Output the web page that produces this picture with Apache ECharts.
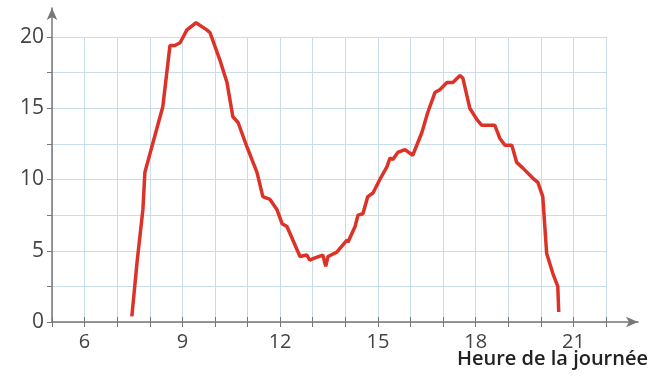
<!DOCTYPE html>
<html>
<head>
<meta charset="utf-8">
<script src="https://cdn.jsdelivr.net/npm/echarts@6/dist/echarts.min.js"></script>
<style>
    html, body { margin: 0; padding: 0; background: #fff; }
    #chart { width: 650px; height: 385px; }
</style>
</head>
<body>
<div id="chart"></div>
<script>
// heure de la journée / valeur
const hours = [7.45, 7.61, 7.79, 7.85, 8.1, 8.4, 8.62, 8.77, 8.93, 9.14, 9.42, 9.75, 9.85, 10.15, 10.37, 10.55, 10.71, 10.98, 11.29, 11.47, 11.69, 11.9, 12.06, 12.21, 12.61, 12.82, 12.91, 13.07, 13.31, 13.4, 13.47, 13.74, 14.05, 14.08, 14.3, 14.39, 14.54, 14.69, 14.85, 15.06, 15.28, 15.37, 15.46, 15.61, 15.83, 16.07, 16.35, 16.53, 16.75, 16.9, 17.12, 17.3, 17.52, 17.61, 17.82, 18.04, 18.19, 18.59, 18.74, 18.9, 19.11, 19.26, 19.45, 19.75, 19.91, 20.06, 20.18, 20.37, 20.52, 20.55];
const values = [0.4, 4.2, 7.9, 10.5, 12.6, 15.1, 19.4, 19.4, 19.6, 20.5, 21.0, 20.5, 20.3, 18.4, 16.8, 14.4, 14.0, 12.3, 10.5, 8.8, 8.6, 7.9, 6.9, 6.7, 4.6, 4.7, 4.35, 4.5, 4.7, 3.9, 4.6, 4.9, 5.75, 5.6, 6.7, 7.5, 7.6, 8.8, 9.05, 10.0, 10.9, 11.5, 11.4, 11.9, 12.1, 11.7, 13.3, 14.7, 16.1, 16.3, 16.8, 16.8, 17.3, 17.1, 15.0, 14.2, 13.8, 13.8, 12.9, 12.4, 12.4, 11.2, 10.8, 10.1, 9.8, 8.8, 4.8, 3.4, 2.5, 0.7];
const xLabels = [6, 9, 12, 15, 18, 21];
const yLabels = [0, 5, 10, 15, 20];

const gridColor = '#c9dcea';
const textColor = '#444';
const font = '"Open Sans", "Noto Sans", sans-serif';

let chart = echarts.init(document.getElementById('chart'));
const option = {
    animation: false,
    grid: [
        {left: 52, right: 44, top: 37, bottom: 63},
        {left: 52, right: 12, top: 8, bottom: 63}
    ],
    xAxis: [
        {
            type: 'value', gridIndex: 0, min: 5, max: 22, interval: 1,
            axisLine: {show: false},
            axisTick: {show: true, length: 5, lineStyle: {color: '#777'}},
            splitLine: {show: true, lineStyle: {color: gridColor, width: 1}},
            axisLabel: {
                fontSize: 20, color: textColor, fontFamily: font, margin: 10,
                formatter: v => xLabels.indexOf(v) >= 0 ? String(v) : ''
            }
        },
        {
            type: 'value', gridIndex: 0, min: 5, max: 22, interval: 1, position: 'bottom',
            axisLine: {show: false},
            axisTick: {show: true, inside: true, length: 5, lineStyle: {color: '#777'}},
            splitLine: {show: false},
            axisLabel: {show: false}
        },
        {
            type: 'value', gridIndex: 1, min: 0, max: 1,
            axisLine: {show: true, symbol: ['none', 'arrow'], symbolSize: [8, 12], lineStyle: {color: '#777', width: 1.5}},
            axisTick: {show: false}, splitLine: {show: false}, axisLabel: {show: false}
        }
    ],
    yAxis: [
        {
            type: 'value', gridIndex: 0, min: 0, max: 20, interval: 2.5,
            axisLine: {show: false},
            axisTick: {show: true, length: 5, lineStyle: {color: '#777'}},
            splitLine: {show: true, lineStyle: {color: gridColor, width: 1}},
            axisLabel: {
                fontSize: 21, color: textColor, fontFamily: font, margin: 8,
                formatter: v => yLabels.indexOf(v) >= 0 ? String(v) : ''
            }
        },
        {
            type: 'value', gridIndex: 1, min: 0, max: 1,
            axisLine: {show: true, symbol: ['none', 'arrow'], symbolSize: [8, 12], lineStyle: {color: '#777', width: 1.5}},
            axisTick: {show: false}, splitLine: {show: false}, axisLabel: {show: false}
        }
    ],
    graphic: [
        {
            type: 'text', right: 2, top: 349,
            style: {text: 'Heure de la journée', fontSize: 20, fontWeight: 600, fill: '#222', fontFamily: font}
        }
    ],
    series: [
        {
            type: 'line',
            xAxisIndex: 0, yAxisIndex: 0,
            data: hours.map((h, i) => [h, values[i]]),
            showSymbol: false,
            clip: false,
            lineStyle: {color: '#dc3328', width: 3.5}
        }
    ]
};
chart.setOption(option);
</script>
</body>
</html>
